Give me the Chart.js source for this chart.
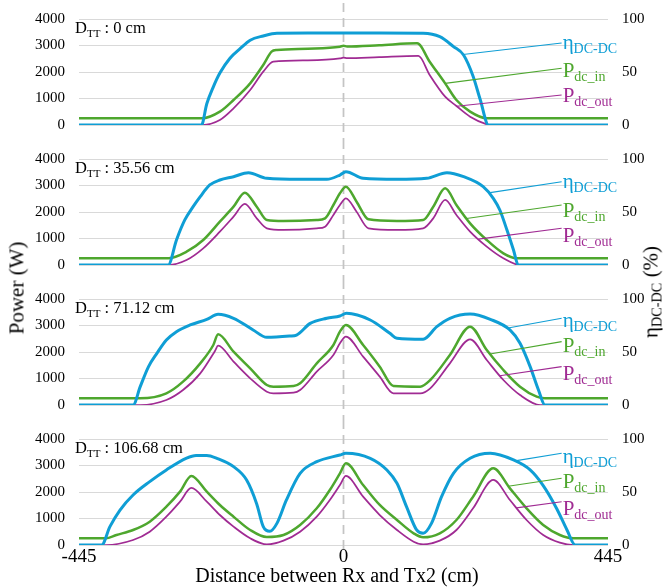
<!DOCTYPE html>
<html><head><meta charset="utf-8">
<script src="https://cdn.jsdelivr.net/npm/chart.js@4.4.1/dist/chart.umd.min.js"></script>
<style>
html,body{margin:0;padding:0;background:#fff;}
#wrap{position:relative;width:665px;height:587px;overflow:hidden;font-family:"Liberation Serif","Times New Roman",serif;background:#fff;}
canvas{position:absolute;left:0;}
.t{position:absolute;white-space:nowrap;color:#000;transform:translate(-50%,-50%);}
.r{transform:translate(-50%,-50%) rotate(-90deg);}
sub{font-size:0.68em;vertical-align:baseline;position:relative;top:0.3em;}
</style></head><body>
<div id="wrap">
<canvas id="c0" width="665" height="140" style="top:0px"></canvas>
<canvas id="c1" width="665" height="140" style="top:140px"></canvas>
<canvas id="c2" width="665" height="140" style="top:280px"></canvas>
<canvas id="c3" width="665" height="167" style="top:420px"></canvas>
<div class="t r" style="left:17px;top:288px;font-size:21px;">Power (W)</div>
<div class="t r" style="left:651px;top:292px;font-size:21px;">η<sub>DC-DC</sub> (%)</div>
<div class="t" style="left:337px;top:575px;font-size:20px;">Distance between Rx and Tx2 (cm)</div>
</div>
<script>
// ---------- data ----------
const panelLabels = ['0', '35.56', '71.12', '106.68'];
const xTicks = [-445, 0, 445];
const powerTicks = [0, 1000, 2000, 3000, 4000];
const etaTicks = [0, 50, 100];

// Panel 1: D_TT = 0 cm
const etaX1 = [-445, -239, -230, -219, -208, -191, -174, -157, -135, -112, -60, 0, 60, 134, 162, 185, 202, 218, 230, 244, 445];
const eta1  = [0, 0, 20, 36, 49, 63, 72, 80, 84, 86.5, 86.7, 86.7, 86.7, 86.5, 83.3, 74, 66, 46, 24, 0, 0];
const pinX1 = [-445, -238, -208, -185, -157, -135, -121, -112, -60, -6, 0, 6, 60, 124, 145, 171, 190, 213, 241, 445];
const pin1  = [252, 252, 503, 943, 1572, 2264, 2767, 2830, 2880, 2955, 2990, 2960, 3010, 3082, 2390, 1572, 943, 503, 252, 252];
const poutX1 = [-445, -238, -208, -185, -157, -135, -118, -60, -6, 0, 6, 60, 126, 145, 171, 190, 213, 241, 246, 445];
const pout1  = [0, 0, 189, 629, 1321, 2013, 2390, 2440, 2510, 2540, 2520, 2560, 2604, 1887, 1069, 717, 314, 25, 0, 0];

// Panel 2: D_TT = 35.56 cm
const etaX2 = [-445, -295, -281, -267, -253, -241, -225, -208, -185, -160, -129, -73, -28, -6, 4, 33, 90, 140, 174, 202, 235, 252, 263, 275, 286, 294, 445];
const eta2  = [0, 0, 23.6, 42.5, 55, 64.5, 75.5, 80.2, 83.3, 87.1, 81.8, 80.8, 80.8, 84.9, 88, 81.8, 80.8, 81.8, 87.1, 83.3, 73.9, 62.9, 51.9, 33, 14.2, 0, 0];
const pinX2 = [-445, -295, -264, -236, -208, -185, -166, -146, -129, -101, -45, -31, -17, -6, 4, 22, 42, 90, 134, 151, 171, 190, 213, 241, 269, 291, 445];
const pin2  = [252, 252, 503, 943, 1635, 2201, 2730, 2201, 1698, 1660, 1698, 1761, 2264, 2705, 2956, 2390, 1723, 1660, 1698, 2201, 2893, 2264, 1572, 943, 440, 252, 252];
const poutX2 = [-445, -295, -264, -236, -208, -185, -166, -146, -129, -101, -45, -31, -17, -6, 4, 22, 42, 90, 134, 151, 171, 190, 213, 241, 269, 297, 445];
const pout2  = [0, 0, 189, 629, 1258, 1824, 2302, 1761, 1384, 1321, 1384, 1447, 1887, 2264, 2516, 2013, 1384, 1321, 1384, 1761, 2453, 1887, 1258, 692, 252, 0, 0];

// Panel 3: D_TT = 71.12 cm
const etaX3 = [-445, -354, -342, -328, -314, -298, -281, -258, -230, -211, -185, -152, -129, -90, -79, -56, -28, -6, 5, 45, 78, 90, 134, 157, 179, 213, 247, 280, 297, 314, 328, 339, 445];
const eta3  = [0, 0, 17.3, 36.2, 48.7, 61.3, 69.2, 75.5, 80.8, 85.5, 81.8, 70.8, 63.8, 65.1, 66, 77, 81.8, 84, 86.5, 80.2, 67.6, 62.9, 62, 73.9, 81.8, 85.8, 80.8, 70.8, 58.2, 36.2, 14.2, 0, 0];
const pinX3 = [-445, -342, -298, -270, -241, -219, -211, -185, -157, -129, -118, -84, -73, -45, -17, -6, 4, 33, 61, 84, 129, 146, 179, 213, 241, 269, 297, 325, 339, 445];
const pin3  = [252, 252, 440, 881, 1572, 2264, 2667, 2013, 1384, 755, 692, 717, 818, 1572, 2264, 2768, 3019, 2264, 1447, 717, 692, 943, 1887, 2956, 2075, 1321, 692, 314, 252, 252];
const poutX3 = [-445, -342, -298, -270, -241, -216, -211, -185, -157, -129, -118, -84, -73, -45, -17, -6, 4, 33, 61, 84, 129, 146, 179, 213, 241, 269, 297, 331, 445];
const pout3  = [0, 0, 189, 566, 1195, 2050, 2240, 1635, 1006, 503, 440, 465, 566, 1258, 1887, 2327, 2579, 1824, 1069, 440, 440, 629, 1572, 2478, 1698, 943, 377, 0, 0];

// Panel 4: D_TT = 106.68 cm
const etaX4 = [-445, -407, -393, -376, -354, -326, -298, -264, -248, -230, -213, -185, -163, -146, -135, -124, -112, -96, -73, -45, -6, 4, 45, 73, 90, 106, 123, 134, 148, 165, 185, 213, 247, 286, 314, 336, 359, 376, 390, 445];
const eta4  = [0, 0, 17.3, 33, 47.2, 59.8, 70.8, 82, 84.5, 84.5, 81.8, 73.9, 61.3, 38.7, 17.3, 12.9, 20.4, 42.5, 67.6, 78.6, 84.9, 86.5, 81.8, 70.8, 58.2, 36.2, 14.2, 11, 20.4, 45.6, 67.6, 81.8, 86.5, 80.2, 70.8, 56, 34, 14.2, 0, 0];
const pinX4 = [-445, -400, -382, -354, -326, -298, -275, -256, -230, -208, -185, -157, -129, -101, -73, -45, -23, -6, 4, 33, 61, 90, 118, 134, 162, 190, 218, 252, 280, 308, 336, 364, 387, 445];
const pin4  = [252, 252, 377, 566, 881, 1447, 2013, 2604, 2013, 1510, 1069, 566, 300, 377, 755, 1384, 2075, 2705, 3082, 2264, 1510, 943, 440, 289, 440, 943, 1824, 2893, 2138, 1384, 755, 377, 252, 252];
const poutX4 = [-445, -400, -354, -326, -298, -275, -256, -230, -208, -185, -157, -129, -101, -73, -45, -23, -6, 4, 33, 61, 90, 118, 134, 162, 190, 218, 252, 280, 308, 336, 364, 387, 445];
const pout4  = [0, 0, 189, 503, 1069, 1635, 2151, 1635, 1132, 692, 252, 20, 164, 503, 1069, 1698, 2264, 2604, 1824, 1132, 566, 126, 25, 164, 566, 1384, 2453, 1698, 943, 377, 88, 0, 0];

// Callout labels: where each leader touches its curve (x), where it ends (x, y) and text baseline (y)
const calloutX = 367;
const etaAnchorX  = [201, 244, 274.5, 288.5];
const etaEndY     = [77.4, 78.6, 81.8, 86.5];
const etaTextY    = [71.7, 72.6, 73.9, 77.4];
const pinAnchorX  = [171, 207, 246.5, 277];
const pinEndY     = [2140, 2264, 2390, 2516];
const pinTextY    = [1811, 1823, 2000, 2151];
const poutAnchorX = [190.5, 227, 263, 291];
const poutEndY    = [1132, 1384, 1447, 1635];
const poutTextY   = [868, 879, 943, 1132];

// ---------- rendering ----------
const BLUE = '#0F9ED5', GREEN = '#4EA72E', PURPLE = '#A02B93';
const FONT = '"Liberation Serif", "Times New Roman", serif';

const panels = [
  {eta: [etaX1, eta1], pin: [pinX1, pin1], pout: [poutX1, pout1]},
  {eta: [etaX2, eta2], pin: [pinX2, pin2], pout: [poutX2, pout2]},
  {eta: [etaX3, eta3], pin: [pinX3, pin3], pout: [poutX3, pout3]},
  {eta: [etaX4, eta4], pin: [pinX4, pin4], pout: [poutX4, pout4]},
];

function pts(pair) { return pair[0].map((x, i) => ({x: x, y: pair[1][i]})); }
function interp(pair, x) {
  const xs = pair[0], ys = pair[1];
  for (let i = 0; i < xs.length - 1; i++) {
    if (x >= xs[i] && x <= xs[i + 1]) {
      const t = (x - xs[i]) / (xs[i + 1] - xs[i]);
      return ys[i] + t * (ys[i + 1] - ys[i]);
    }
  }
  return ys[ys.length - 1];
}

function drawSubText(ctx, x, y, main, sub, color, mainSize, subSize, dy) {
  ctx.save();
  ctx.fillStyle = color;
  ctx.textAlign = 'left';
  ctx.textBaseline = 'alphabetic';
  ctx.font = mainSize + 'px ' + FONT;
  ctx.fillText(main, x, y);
  const w = ctx.measureText(main).width;
  ctx.font = subSize + 'px ' + FONT;
  ctx.fillText(sub, x + w, y + dy);
  ctx.restore();
}

const overlay = {
  id: 'overlay',
  beforeDatasetsDraw(chart, args, opts) {
    const ctx = chart.ctx, xs = chart.scales.x;
    const px = xs.getPixelForValue(0);
    ctx.save();
    ctx.strokeStyle = '#C4C4C4';
    ctx.lineWidth = 1.75;
    ctx.setLineDash([9, 6]);
    ctx.beginPath();
    ctx.moveTo(px, opts.i === 0 ? 3 : 0);
    ctx.lineTo(px, opts.last ? chart.chartArea.bottom + 5 : chart.height);
    ctx.stroke();
    ctx.restore();
  },
  afterDatasetsDraw(chart, args, opts) {
    const ctx = chart.ctx, i = opts.i, p = panels[i];
    const xs = chart.scales.x, yP = chart.scales.y, yE = chart.scales.y2;
    const lx = xs.getPixelForValue(calloutX);
    const items = [
      {pair: p.eta,  ax: etaAnchorX[i],  ey: etaEndY[i],  ty: etaTextY[i],  sc: yE, c: BLUE,   m: 'η', s: 'DC-DC', dy: 4},
      {pair: p.pin,  ax: pinAnchorX[i],  ey: pinEndY[i],  ty: pinTextY[i],  sc: yP, c: GREEN,  m: 'P', s: 'dc_in', dy: 4},
      {pair: p.pout, ax: poutAnchorX[i], ey: poutEndY[i], ty: poutTextY[i], sc: yP, c: PURPLE, m: 'P', s: 'dc_out', dy: 4},
    ];
    ctx.save();
    items.forEach(it => {
      const ax = xs.getPixelForValue(it.ax);
      const ay = it.sc.getPixelForValue(interp(it.pair, it.ax));
      ctx.strokeStyle = it.c;
      ctx.lineWidth = 1.1;
      ctx.beginPath();
      ctx.moveTo(ax, ay);
      ctx.lineTo(lx, it.sc.getPixelForValue(it.ey));
      ctx.stroke();
      drawSubText(ctx, lx + 1, it.sc.getPixelForValue(it.ty), it.m, it.s, it.c, 21, 14, it.dy);
    });
    // panel label
    const tx = chart.chartArea.left - 4, ty = chart.chartArea.top + 13.5;
    ctx.fillStyle = '#000';
    ctx.font = '16.5px ' + FONT;
    ctx.textBaseline = 'alphabetic';
    ctx.fillText('D', tx, ty);
    let w = ctx.measureText('D').width;
    ctx.font = '11px ' + FONT;
    ctx.fillText('TT', tx + w, ty + 4);
    w += ctx.measureText('TT').width;
    ctx.font = '16.5px ' + FONT;
    ctx.fillText(' : ' + panelLabels[i] + ' cm', tx + w, ty);
    ctx.restore();
  }
};

function noPad(s) { s.paddingTop = 0; s.paddingBottom = 0; s.paddingLeft = 0; s.paddingRight = 0; }

function makePanel(i) {
  const last = i === 3;
  const p = panels[i];
  new Chart(document.getElementById('c' + i), {
    type: 'line',
    data: {
      datasets: [
        {data: pts(p.eta), yAxisID: 'y2', borderColor: BLUE, borderWidth: 3},
        {data: pts(p.pin), yAxisID: 'y', borderColor: GREEN, borderWidth: 2.5},
        {data: pts(p.pout), yAxisID: 'y', borderColor: PURPLE, borderWidth: 1.75},
      ]
    },
    options: {
      responsive: false,
      animation: false,
      devicePixelRatio: 1,
      parsing: false,
      elements: {point: {radius: 0}, line: {cubicInterpolationMode: 'monotone', borderCapStyle: 'round'}},
      layout: {padding: {top: 19, bottom: last ? 0 : 15, left: 0, right: 0}},
      plugins: {legend: {display: false}, tooltip: {enabled: false}, overlay: {i: i, last: last}},
      scales: {
        x: {
          type: 'linear', min: -445, max: 445, display: last,
          afterBuildTicks: s => { s.ticks = xTicks.map(v => ({value: v})); },
          afterFit: s => { s.height = s.options.display ? 42 : 0; noPad(s); },
          grid: {display: false, drawTicks: false},
          border: {display: false},
          ticks: {color: '#000', font: {family: FONT, size: 19}, padding: 1, maxRotation: 0, autoSkip: false, callback: v => String(v)}
        },
        y: {
          position: 'left', min: 0, max: 4000,
          afterBuildTicks: s => { s.ticks = powerTicks.map(v => ({value: v})); },
          afterFit: s => { s.width = 79; noPad(s); },
          grid: {color: '#D9D9D9', lineWidth: 1, drawTicks: false},
          border: {display: false},
          ticks: {color: '#000', font: {family: FONT, size: 15}, padding: 14, autoSkip: false, callback: v => String(v)}
        },
        y2: {
          position: 'right', min: 0, max: 100,
          afterBuildTicks: s => { s.ticks = etaTicks.map(v => ({value: v})); },
          afterFit: s => { s.width = 57; noPad(s); },
          grid: {display: false, drawTicks: false},
          border: {display: false},
          ticks: {color: '#000', font: {family: FONT, size: 15}, padding: 14, autoSkip: false, callback: v => String(v)}
        }
      }
    },
    plugins: [overlay]
  });
}
[0, 1, 2, 3].forEach(makePanel);
</script>
</body></html>
